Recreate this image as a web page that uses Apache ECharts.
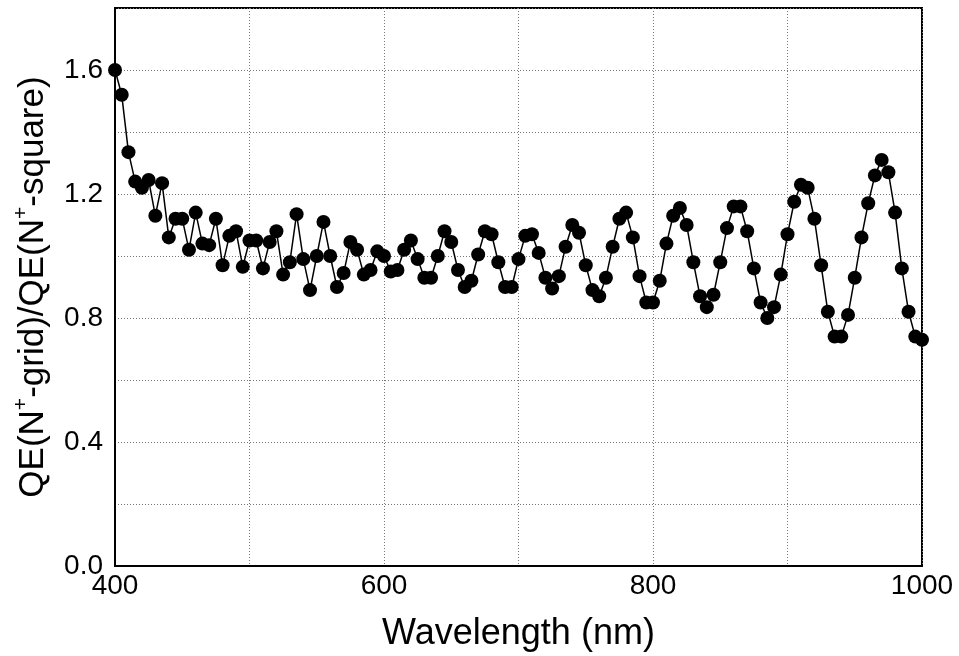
<!DOCTYPE html>
<html>
<head>
<meta charset="utf-8">
<script src="https://cdn.jsdelivr.net/npm/echarts@6/dist/echarts.min.js"></script>
<style>html,body{margin:0;padding:0;background:#fff}#c{width:959px;height:656px}</style>
</head>
<body>
<div id="c"></div>
<script>
const wavelengths = [400,405,410,415,420,425,430,435,440,445,450,455,460,465,470,475,480,485,490,495,
500,505,510,515,520,525,530,535,540,545,550,555,560,565,570,575,580,585,590,595,
600,605,610,615,620,625,630,635,640,645,650,655,660,665,670,675,680,685,690,695,
700,705,710,715,720,725,730,735,740,745,750,755,760,765,770,775,780,785,790,795,
800,805,810,815,820,825,830,835,840,845,850,855,860,865,870,875,880,885,890,895,
900,905,910,915,920,925,930,935,940,945,950,955,960,965,970,975,980,985,990,995,1000];
const qeRatio = [1.60,1.52,1.335,1.24,1.22,1.245,1.13,1.235,1.06,1.12,1.12,1.02,1.14,1.04,1.035,1.12,0.97,1.065,1.08,0.965,
1.05,1.05,0.96,1.045,1.08,0.94,0.98,1.135,0.99,0.89,1.00,1.11,1.00,0.90,0.945,1.045,1.02,0.94,0.955,1.015,
1.00,0.95,0.955,1.02,1.05,0.99,0.93,0.93,1.00,1.08,1.045,0.955,0.90,0.92,1.005,1.08,1.07,0.98,0.90,0.90,
0.99,1.065,1.07,1.01,0.93,0.895,0.935,1.03,1.10,1.075,0.97,0.89,0.87,0.93,1.03,1.12,1.14,1.06,0.935,0.85,
0.85,0.92,1.04,1.13,1.155,1.10,0.98,0.87,0.835,0.875,0.98,1.09,1.16,1.16,1.08,0.96,0.85,0.80,0.835,0.94,
1.07,1.175,1.23,1.22,1.12,0.97,0.82,0.74,0.74,0.81,0.93,1.06,1.17,1.26,1.31,1.27,1.14,0.96,0.82,0.74,0.73];
const xTickLabels = ['400','600','800','1000'];
const yTickLabels = ['0.0','0.4','0.8','1.2','1.6'];

const FONT = 'Liberation Sans, Arial, Helvetica, sans-serif';
const chart = echarts.init(document.getElementById('c'), null, {renderer:'canvas'});
chart.setOption({
  backgroundColor: '#fff',
  animation: false,
  grid: { left: 115, right: 37, top: 8, bottom: 90, show: true, borderColor: '#000', borderWidth: 2,
    backgroundColor: 'transparent', containLabel: false, outerBoundsMode: 'none' },
  xAxis: {
    type: 'value', min: 400, max: 1000, interval: 100,
    name: 'Wavelength (nm)', nameLocation: 'middle', nameGap: 50,
    nameTextStyle: { fontSize: 36, fontFamily: FONT, color: '#000', verticalAlign: 'top' },
    axisLine: { show: true, lineStyle: { color: '#000', width: 2 } },
    axisTick: { show: false },
    axisLabel: { fontSize: 28, fontFamily: FONT, color: '#000', margin: 6,
      formatter: v => xTickLabels.includes(String(v)) ? String(v) : '' },
    splitLine: { show: true, lineStyle: { color: '#777', type: [1,2], width: 1 } }
  },
  yAxis: {
    type: 'value', min: 0, max: 1.8, interval: 0.2,
    name: '{a|QE(N}{s|+}{a|-grid)/QE(N}{s|+}{a|-square)}',
    nameLocation: 'middle', nameGap: 64, nameRotate: 90,
    nameTextStyle: { color: '#000', fontFamily: FONT,
      rich: {
        a: { fontSize: 35, fontFamily: FONT, color: '#000', lineHeight: 40, verticalAlign: 'bottom' },
        s: { fontSize: 21, fontFamily: FONT, color: '#000', lineHeight: 24, verticalAlign: 'top' }
      } },
    axisLine: { show: true, lineStyle: { color: '#000', width: 2 } },
    axisTick: { show: false },
    axisLabel: { fontSize: 28, fontFamily: FONT, color: '#000', margin: 12,
      formatter: v => { const s = v.toFixed(1); return yTickLabels.includes(s) ? s : ''; } },
    splitLine: { show: true, lineStyle: { color: '#777', type: [1,2], width: 1 } }
  },
  series: [{
    type: 'line',
    data: wavelengths.map((w, i) => [w, qeRatio[i]]),
    symbol: 'circle', symbolSize: 14,
    itemStyle: { color: '#000' },
    lineStyle: { color: '#000', width: 1.5 },
    clip: false
  }]
});
</script>
</body>
</html>
